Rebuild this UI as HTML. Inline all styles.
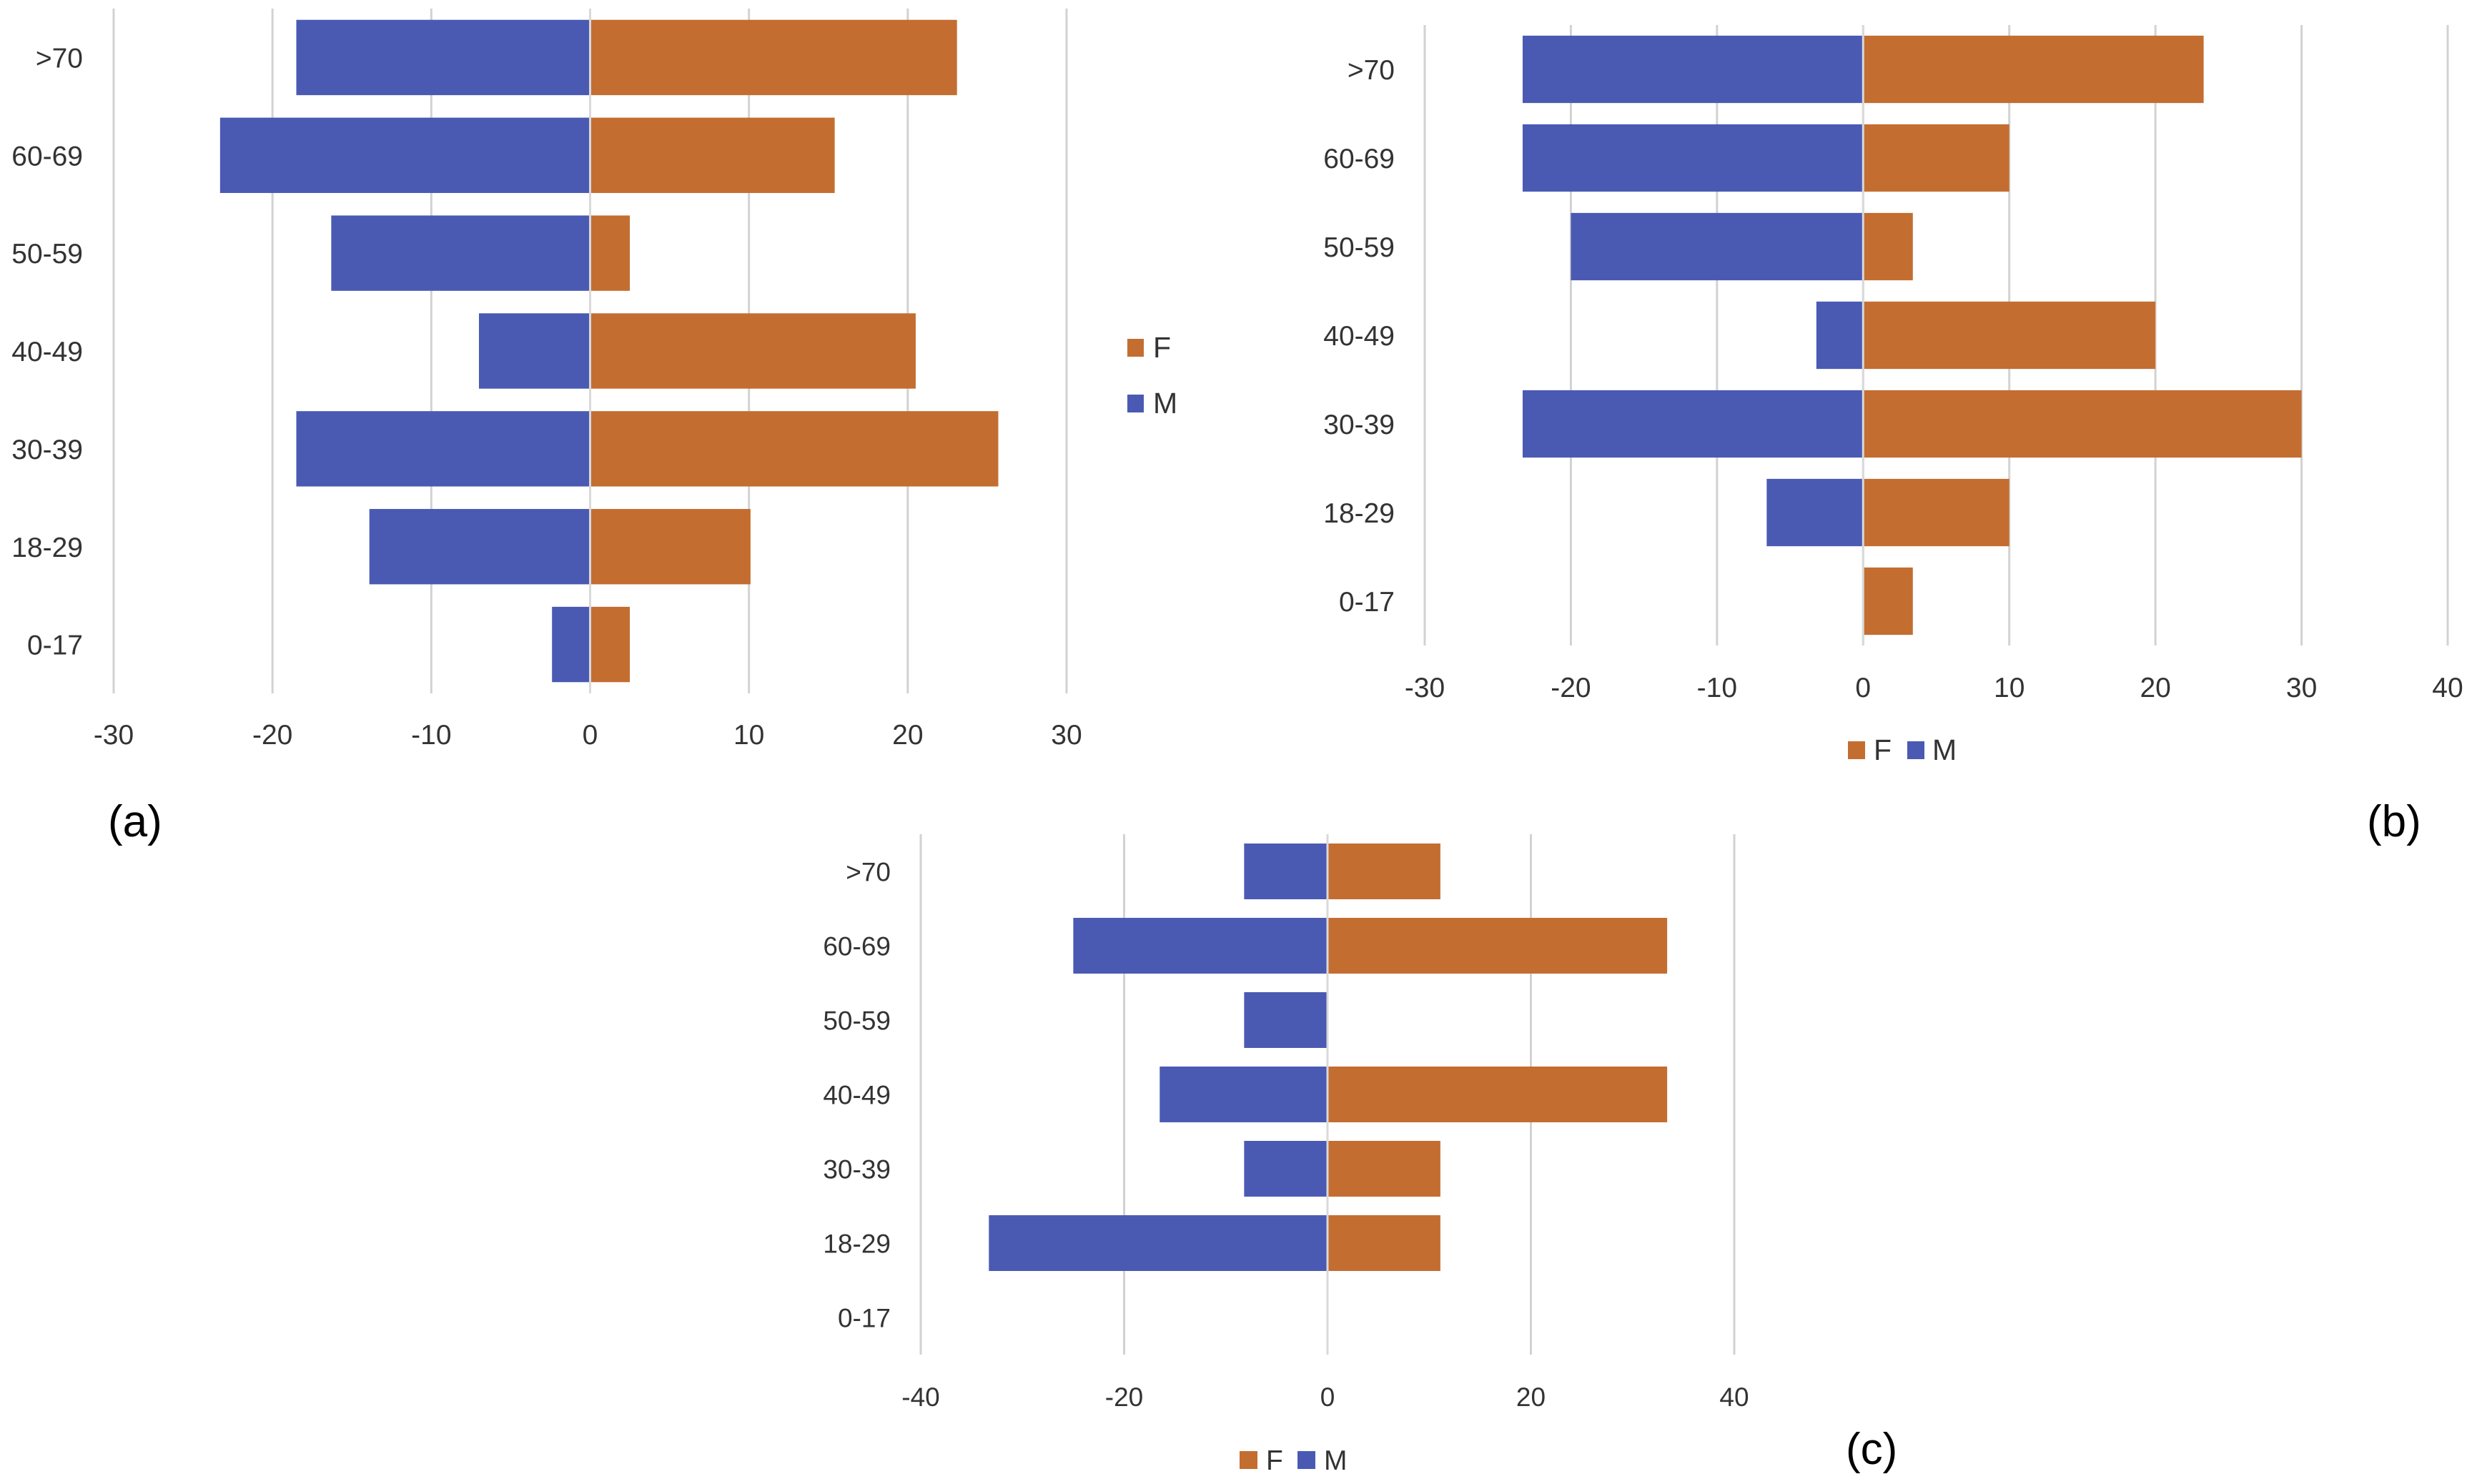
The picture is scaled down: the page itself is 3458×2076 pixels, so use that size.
<!DOCTYPE html>
<html><head><meta charset="utf-8">
<style>
html,body{margin:0;padding:0;background:#fff;}
svg{display:block;font-family:"Liberation Sans",sans-serif;}
</style></head>
<body>
<svg id="fig" width="3458" height="2076" viewBox="0 0 3458 2076" xmlns="http://www.w3.org/2000/svg">
<rect width="3458" height="2076" fill="#fff"/>
<text x="151" y="1170" font-size="62" fill="#000">(a)</text>
<text x="3311" y="1170" font-size="62" fill="#000">(b)</text>
<text x="2582" y="2048" font-size="62" fill="#000">(c)</text>
</svg>
<script>
const categories = [">70","60-69","50-59","40-49","30-39","18-29","0-17"];
const aMale   = [-18.5,-23.3,-16.3,-7.0,-18.5,-13.9,-2.4];
const aFemale = [23.1,15.4,2.5,20.5,25.7,10.1,2.5];
const aTicks  = [-30,-20,-10,0,10,20,30];
const bMale   = [-23.3,-23.3,-20,-3.2,-23.3,-6.6,0];
const bFemale = [23.3,10,3.4,20,30,10,3.4];
const bTicks  = [-30,-20,-10,0,10,20,30,40];
const cMale   = [-8.2,-25,-8.2,-16.5,-8.2,-33.3,0];
const cFemale = [11.1,33.4,0,33.4,11.1,11.1,0];
const cTicks  = [-40,-20,0,20,40];

const NS = "http://www.w3.org/2000/svg";
const svg = document.getElementById('fig');
const BLUE = "#4a5ab3", ORANGE = "#c46d31", GRID = "#d2d2d2";

function mk(tag, attrs, parent){
  const e = document.createElementNS(NS, tag);
  for (const k in attrs) e.setAttribute(k, attrs[k]);
  parent.appendChild(e);
  return e;
}

function drawChart(cfg, males, females, ticks){
  const g = mk('g', {}, svg);
  
  
  const tmin = ticks[0], tmax = ticks[ticks.length-1];
  const xs = v => cfg.x0 + (v - tmin) / (tmax - tmin) * (cfg.x1 - cfg.x0);
  const step = (cfg.bottom - cfg.top) / categories.length;
  ticks.forEach(t => {
    const l = mk('line', {x1: xs(t), x2: xs(t), y1: cfg.top, y2: cfg.bottom, stroke: GRID, 'stroke-width': 3}, g);
    
    
    const tx = mk('text', {x: xs(t), y: cfg.tickY, 'font-size': cfg.fs, fill: '#333', 'text-anchor': 'middle'}, g);
    
    
    tx.textContent = t;
  });
  categories.forEach((c, i) => {
    const cy = cfg.top + step * (i + 0.5);
    const bh = step * cfg.ratio;
    const m = males[i], f = females[i];
    if (m !== 0) {
      const r = mk('rect', {x: xs(Math.min(m,0)), y: cy - bh/2, width: Math.abs(xs(m) - xs(0)), height: bh, fill: BLUE}, g);
      
      
    }
    if (f !== 0) {
      const r = mk('rect', {x: xs(0), y: cy - bh/2, width: Math.abs(xs(f) - xs(0)), height: bh, fill: ORANGE}, g);
      
      
    }
    const lt = mk('text', {x: cfg.labelX, y: cy + cfg.fs*0.36, 'font-size': cfg.fs, fill: '#333', 'text-anchor': 'end'}, g);
    
    
    lt.textContent = c;
  });
  const z = mk('line', {x1: xs(0), x2: xs(0), y1: cfg.top, y2: cfg.bottom, stroke: '#d9d9d9', 'stroke-width': 3}, g);
  
  
  cfg.legend.forEach(it => {
    const s = mk('rect', {x: it.sx, y: it.sy, width: it.sw, height: it.sh, fill: it.color}, g);
    
    
    const t = mk('text', {x: it.tx, y: it.sy + it.sh + 1, 'font-size': cfg.fs + 2, fill: '#333'}, g);
    
    
    t.textContent = it.key;
  });
}

drawChart({name:'chart-a', x0:159, x1:1492, top:12, bottom:970, ratio:0.77, labelX:116, tickY:1041, fs:39,
  legend:[{key:'F',color:ORANGE,sx:1577,sy:474,sw:23,sh:25,tx:1613},{key:'M',color:BLUE,sx:1577,sy:552,sw:23,sh:25,tx:1613}]},
  aMale, aFemale, aTicks);
drawChart({name:'chart-b', x0:1993, x1:3424, top:35, bottom:903, ratio:0.76, labelX:1951, tickY:975, fs:39,
  legend:[{key:'F',color:ORANGE,sx:2585,sy:1037,sw:24,sh:25,tx:2621},{key:'M',color:BLUE,sx:2668,sy:1037,sw:24,sh:25,tx:2703}]},
  bMale, bFemale, bTicks);
drawChart({name:'chart-c', x0:1288, x1:2426, top:1167, bottom:1895, ratio:0.75, labelX:1246, tickY:1967, fs:37,
  legend:[{key:'F',color:ORANGE,sx:1734,sy:2030,sw:25,sh:25,tx:1771},{key:'M',color:BLUE,sx:1815,sy:2030,sw:25,sh:25,tx:1852}]},
  cMale, cFemale, cTicks);
</script>
</body></html>
